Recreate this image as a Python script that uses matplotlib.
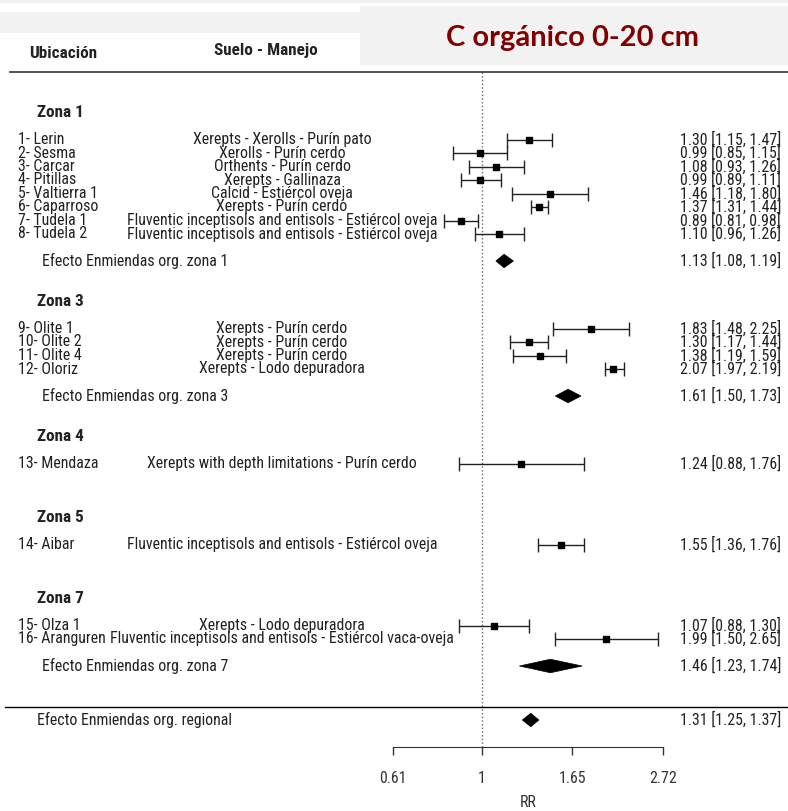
import numpy as np
import matplotlib
matplotlib.use('Agg')
import matplotlib.pyplot as plt
from matplotlib.patches import Polygon, Rectangle
from matplotlib.ticker import NullLocator
from matplotlib import font_manager

# --- data ---
studies = ["1- Lerin", "2- Sesma", "3- Carcar", "4- Pitillas", "5- Valtierra 1",
           "6- Caparroso", "7- Tudela 1", "8- Tudela 2", "9- Olite 1", "10- Olite 2",
           "11- Olite 4", "12- Oloriz", "13- Mendaza", "14- Aibar", "15- Olza 1",
           "16- Aranguren"]
manejo = ["Xerepts - Xerolls - Purín pato", "Xerolls - Purín cerdo",
          "Orthents - Purín cerdo", "Xerepts - Gallinaza", "Calcid - Estiércol oveja",
          "Xerepts - Purín cerdo",
          "Fluventic inceptisols and entisols - Estiércol oveja",
          "Fluventic inceptisols and entisols - Estiércol oveja",
          "Xerepts - Purín cerdo", "Xerepts - Purín cerdo", "Xerepts - Purín cerdo",
          "Xerepts - Lodo depuradora",
          "Xerepts with depth limitations - Purín cerdo",
          "Fluventic inceptisols and entisols - Estiércol oveja",
          "Xerepts - Lodo depuradora",
          "Fluventic inceptisols and entisols - Estiércol vaca-oveja"]
rr = np.array([1.30, 0.99, 1.08, 0.99, 1.46, 1.37, 0.89, 1.10,
               1.83, 1.30, 1.38, 2.07, 1.24, 1.55, 1.07, 1.99])
ci_lo = np.array([1.15, 0.85, 0.93, 0.89, 1.18, 1.31, 0.81, 0.96,
                  1.48, 1.17, 1.19, 1.97, 0.88, 1.36, 0.88, 1.50])
ci_hi = np.array([1.47, 1.15, 1.26, 1.11, 1.80, 1.44, 0.98, 1.26,
                  2.25, 1.44, 1.59, 2.19, 1.76, 1.76, 1.30, 2.65])

zonas = ["Zona 1", "Zona 3", "Zona 4", "Zona 5", "Zona 7"]
summary_labels = ["Efecto Enmiendas org. zona 1", "Efecto Enmiendas org. zona 3",
                  "Efecto Enmiendas org. zona 7", "Efecto Enmiendas org. regional"]
summary_rr = [1.13, 1.61, 1.46, 1.31]
summary_lo = [1.08, 1.50, 1.23, 1.25]
summary_hi = [1.19, 1.73, 1.74, 1.37]

tick_vals = [0.61, 1, 1.65, 2.72]
tick_labels = ["0.61", "1", "1.65", "2.72"]
title = "C orgánico 0-20 cm"

# --- layout (rows like metafor's forest) ---
study_rows = [45, 44, 43, 42, 41, 40, 39, 38, 31, 30, 29, 28, 21, 15, 9, 8]
zona_rows = [47, 33, 23, 17, 11]
summary_rows = [36, 26, 6, 2]
summary_x = [42, 42, 42, 37]
MANEJO_X = 282

W, H = 788, 811
PX_PER_LOG = 180.7
X_ONE = 482
ROW_PX = 13.5
Y_AXIS = 747

# narrow Arial-like face if there is one, else plain Liberation Sans a bit smaller
names = {f.name for f in font_manager.fontManager.ttflist}
body_font, FS, FSB = 'Liberation Sans', 10.2, 10.2
for cand in ['Roboto Condensed', 'Liberation Sans Narrow', 'Arial Narrow']:
    if cand in names:
        body_font, FS, FSB = cand, 11.4, 12.3
        break
plt.rcParams['font.family'] = body_font
TXT = '#222222'

fig = plt.figure(figsize=(W / 100, H / 100), dpi=100)
ax = fig.add_axes([0, 0, 1, 1])
ax.set_xscale('log')
ax.set_xlim(np.exp(-X_ONE / PX_PER_LOG), np.exp((W - X_ONE) / PX_PER_LOG))
ax.set_ylim(-(H - Y_AXIS) / ROW_PX, Y_AXIS / ROW_PX)
tr = ax.get_yaxis_transform()


def px(x):
    return x / W


# reference line at RR = 1
ax.plot([1, 1], [0, 50], ls=':', color='#666666', lw=1)

# header
ax.text(px(29), 51.4, "Ubicación", transform=tr, ha='left', va='center',
        fontsize=FSB, fontweight='bold', color=TXT)
ax.text(px(214), 51.6, "Suelo - Manejo", transform=tr, ha='left', va='center',
        fontsize=FSB, fontweight='bold', color=TXT)
ax.plot([px(10), 1], [50, 50], transform=tr, color='#333333', lw=1.2)

# individual studies
ax.errorbar(rr, study_rows, xerr=[rr - ci_lo, ci_hi - rr], fmt='s', color='black',
            ms=4.8, ecolor='#222222', elinewidth=1, capsize=5, capthick=1)
fig.canvas.draw()
renderer = fig.canvas.get_renderer()
for i, name in enumerate(studies):
    r = study_rows[i]
    lab = ax.text(px(18), r, name, transform=tr, ha='left', va='center', fontsize=FS, color=TXT)
    w = ax.text(px(MANEJO_X), r, manejo[i], transform=tr, ha='center', va='center',
                fontsize=FS, color=TXT)
    # the last management text runs straight on from its label, as in the reference
    lab_end = lab.get_window_extent(renderer).x1
    if w.get_window_extent(renderer).x0 < lab_end:
        w.set_x(px(lab_end + 1))
        w.set_ha('left')
    ax.text(px(781), r, f"{rr[i]:.2f} [{ci_lo[i]:.2f}, {ci_hi[i]:.2f}]", transform=tr,
            ha='right', va='center', fontsize=FS, color=TXT)

for z, r in zip(zonas, zona_rows):
    ax.text(px(37), r, z, transform=tr, ha='left', va='center', fontsize=FSB,
            fontweight='bold', color=TXT)

# summary diamonds
for lab, r, x0, m, lo, hi in zip(summary_labels, summary_rows, summary_x,
                                 summary_rr, summary_lo, summary_hi):
    ax.add_patch(Polygon([(lo, r), (m, r + 0.5), (hi, r), (m, r - 0.5)], closed=True,
                         fc='black', ec='black', lw=0.5))
    ax.text(px(x0), r, lab, transform=tr, ha='left', va='center', fontsize=FS, color=TXT)
    ax.text(px(781), r, f"{m:.2f} [{lo:.2f}, {hi:.2f}]", transform=tr,
            ha='right', va='center', fontsize=FS, color=TXT)

ax.plot([px(5), 1], [3, 3], transform=tr, color='black', lw=1)

# x axis
for s in ['top', 'left', 'right']:
    ax.spines[s].set_visible(False)
ax.spines['bottom'].set_position(('data', 0))
ax.spines['bottom'].set_bounds(tick_vals[0], tick_vals[-1])
ax.spines['bottom'].set_color('#333333')
ax.set_xticks(tick_vals)
ax.set_xticklabels(tick_labels)
ax.xaxis.set_minor_locator(NullLocator())
ax.tick_params(axis='x', direction='out', length=6, width=1, colors='#333333',
               labelsize=FS, pad=11)
ax.set_yticks([])
ax.text(np.sqrt(tick_vals[0] * tick_vals[-1]), -4.1, "RR", ha='center', va='center',
        fontsize=FS, color='#333333')

# grey banner with title
fig.patches.append(Rectangle((0, 1 - 3 / H), 1, 3 / H, transform=fig.transFigure,
                             fc='#f0f0f0', ec='none', zorder=1))
fig.patches.append(Rectangle((0, 1 - 33 / H), 360 / W, 21 / H, transform=fig.transFigure,
                             fc='#f2f2f2', ec='none', zorder=1))
fig.patches.append(Rectangle((360 / W, 1 - 65 / H), 1 - 360 / W, 59 / H,
                             transform=fig.transFigure, fc='#f2f2f2', ec='none', zorder=1))
fig.text(572 / W, 1 - 38 / H, title, ha='center', va='center', fontsize=21,
         fontweight='bold', color='#800000', family='Lato', zorder=2)

fig.savefig('out.png', dpi=100)
